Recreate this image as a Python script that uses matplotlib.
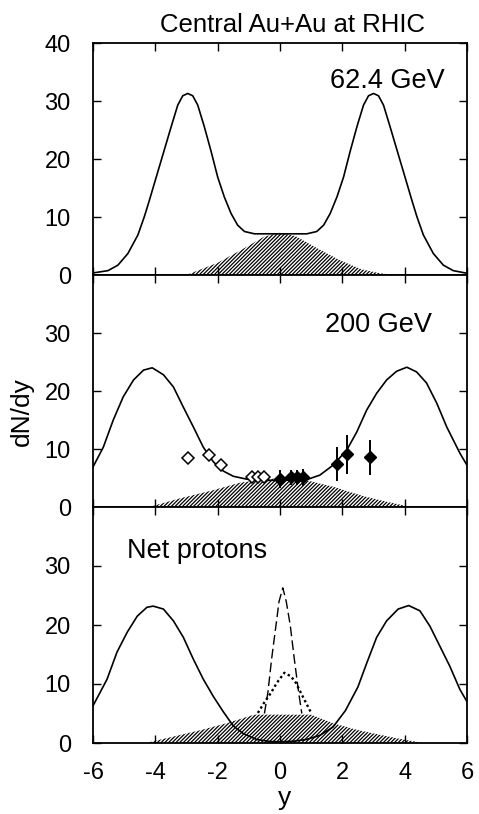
import numpy as np
import matplotlib
matplotlib.use("Agg")
import matplotlib.pyplot as plt

plt.rcParams['font.family'] = ['Liberation Sans', 'DejaVu Sans']
plt.rcParams['axes.unicode_minus'] = False
plt.rcParams['hatch.linewidth'] = 0.9

# 62.4 GeV panel
y62 = [-6, -5.52, -5.2, -4.88, -4.56, -4.35, -4.19, -3.97, -3.76, -3.49, -3.28, -3.12,
       -2.96, -2.8, -2.64, -2.43, -2.21, -2.0, -1.79, -1.57, -1.36, -1.14, -0.82,
       0.86, 1.18, 1.4, 1.61, 1.83, 2.04, 2.25, 2.47, 2.68, 2.84, 3.0, 3.16, 3.32,
       3.53, 3.8, 4.01, 4.23, 4.39, 4.6, 4.92, 5.24, 5.56, 6]
dn62 = [0.35, 0.75, 1.7, 3.7, 6.9, 10.1, 12.9, 16.9, 20.7, 25.6, 29.3, 30.9,
        31.3, 30.9, 29.3, 25.6, 21.3, 16.9, 13.5, 10.6, 8.6, 7.5, 7.1,
        7.1, 7.5, 8.6, 10.6, 13.5, 16.9, 21.3, 25.6, 29.3, 30.9, 31.3, 30.9, 29.3,
        25.6, 20.7, 16.9, 12.9, 10.1, 6.9, 3.7, 1.7, 0.75, 0.3]
yh62 = [-4.0, -2.96, -2.0, -1.25, -0.51, 0, 0.5, 1.2, 1.9, 2.6, 3.2, 3.7]
hh62 = [0, 0.1, 2.1, 4.3, 6.6, 7.3, 6.7, 4.6, 2.6, 1.0, 0.3, 0]

# 200 GeV panel
y200 = [-6, -5.67, -5.35, -5.03, -4.7, -4.38, -4.1, -3.74, -3.42, -3.1, -2.78, -2.46,
        -2.14, -1.82, -1.5, -1.07, -0.53, 0, 0.85, 1.28, 1.7, 2.14, 2.46, 2.78, 3.1,
        3.42, 3.74, 4.07, 4.38, 4.7, 5.03, 5.35, 5.77, 6]
dn200 = [6.9, 10.3, 15, 19, 21.9, 23.6, 24, 22.8, 20.7, 17.2, 13.8, 10.3,
         7.8, 6.2, 5.3, 4.8, 4.6, 4.6, 4.7, 5.5, 7.2, 9.8, 12.9, 16.7, 19.6,
         21.9, 23.4, 24.1, 23.3, 21.4, 17.9, 13.8, 9.3, 7.2]
yh200 = [-4.2, -3.2, -2.14, -1.28, -0.53, 0, 0.85, 1.7, 2.66, 3.42, 3.95, 4.3]
hh200 = [0, 1.5, 2.9, 4.2, 4.7, 5.0, 4.6, 3.5, 1.9, 0.9, 0.3, 0]

open_y = [-2.95, -2.27, -1.89, -0.9, -0.7, -0.5]
open_dn = [8.4, 9.0, 7.2, 5.2, 5.2, 5.2]
filled_y = [0.0, 0.35, 0.55, 0.75, 1.84, 2.16, 2.88]
filled_dn = [4.8, 5.1, 5.1, 5.1, 7.4, 9.1, 8.6]
filled_err = [1.6, 1.3, 1.3, 1.4, 2.9, 3.4, 3.0]

# net protons panel
ynp = [-6, -5.55, -5.23, -4.9, -4.58, -4.27, -4.07, -3.74, -3.42, -3.1, -2.78, -2.46,
       -2.14, -1.82, -1.5, -1.18, -0.75, -0.32, 0, 0.42, 0.85, 1.28, 1.7, 2.1, 2.5,
       2.78, 3.1, 3.42, 3.79, 4.13, 4.49, 4.81, 5.13, 5.45, 5.77, 6]
dnnp = [6.3, 10.8, 15.4, 18.8, 21.5, 23, 23.2, 22.7, 20.7, 17.9, 14.2, 10.8,
        7.9, 5.3, 2.9, 1.6, 0.6, 0.25, 0.2, 0.3, 0.6, 1.3, 2.7, 5.5, 9.5,
        13.5, 17.9, 20.7, 22.7, 23.3, 22.4, 19.8, 16.4, 13, 9.1, 7]
ydash = [-0.5, -0.39, -0.27, -0.13, -0.03, 0.09, 0.2, 0.33, 0.46, 0.6, 0.7]
dndash = [5.0, 8.5, 14.2, 19.9, 24.0, 26.3, 24.0, 19.9, 14.2, 8.5, 5.0]
ydot = [-0.71, -0.5, -0.29, -0.1, 0.14, 0.35, 0.51, 0.67, 1.0]
dndot = [5.1, 6.9, 8.5, 10.2, 11.9, 11.3, 10.2, 8.5, 5.1]
yhnp = [-4.3, -3.74, -2.53, -1.68, -0.83, 0.1, 1.0, 1.73, 2.49, 3.2, 3.85, 4.27, 4.6]
hhnp = [0, 0.7, 2.2, 3.4, 4.8, 4.8, 4.8, 3.3, 2.2, 1.4, 0.7, 0.3, 0]

xticks = [-6, -4, -2, 0, 2, 4, 6]

fig = plt.figure(figsize=(4.79, 8.14), dpi=100)
left, width = 93 / 479, 374 / 479
panels = [(43, 275), (275, 507), (507, 743)]
axes = []
for top, bot in panels:
    ax = fig.add_axes([left, 1 - bot / 814, width, (bot - top) / 814])
    ax.set_xlim(-6, 6)
    ax.set_ylim(0, 40)
    ax.set_xticks(xticks)
    ax.tick_params(direction='in', top=True, right=True, length=6, width=1,
                   labelsize=17, pad=16)
    for s in ax.spines.values():
        s.set_linewidth(1.3)
    axes.append(ax)

ax1, ax2, ax3 = axes
ax1.set_yticks([0, 10, 20, 30, 40])
ax2.set_yticks([0, 10, 20, 30])
ax3.set_yticks([0, 10, 20, 30])
ax1.tick_params(labelbottom=False)
ax2.tick_params(labelbottom=False)
ax3.tick_params(axis='x', pad=14)

def hatched(ax, x, h):
    ax.fill_between(x, 0, h, facecolor='none', edgecolor='black',
                    hatch='/////////', linewidth=0)

# top
hatched(ax1, yh62, hh62)
ax1.plot(y62, dn62, color='black', lw=1.2)
ax1.text(1.6, 32.2, "62.4 GeV", fontsize=19.5)

# middle
hatched(ax2, yh200, hh200)
ax2.plot(y200, dn200, color='black', lw=1.2)
ax2.plot(open_y, open_dn, linestyle='none', marker='D', markersize=6,
         markerfacecolor='white', markeredgecolor='black', markeredgewidth=1.1)
ax2.errorbar(filled_y, filled_dn, yerr=filled_err, fmt='D', color='black',
             markersize=6, elinewidth=1.4, capsize=0)
ax2.text(1.44, 30.2, "200 GeV", fontsize=19.5)

# bottom
hatched(ax3, yhnp, hhnp)
ax3.plot(ynp, dnnp, color='black', lw=1.2)
ax3.plot(ydash, dndash, color='black', lw=1.0, linestyle=(0, (7, 3)))
ax3.plot(ydot, dndot, color='black', lw=1.7, linestyle=(0, (1, 1.2)))
ax3.text(-4.9, 31.3, "Net protons", fontsize=19.5)

fig.text(292 / 479, 1 - 32 / 814, "Central Au+Au at RHIC", ha='center',
         va='baseline', fontsize=18.5)
fig.text(22 / 479, 1 - 412 / 814, "dN/dy", rotation=90, ha='center',
         va='center', fontsize=19)
fig.text(285 / 479, 1 - 805 / 814, "y", ha='center', va='baseline', fontsize=19)

fig.savefig("out.png", dpi=100)
